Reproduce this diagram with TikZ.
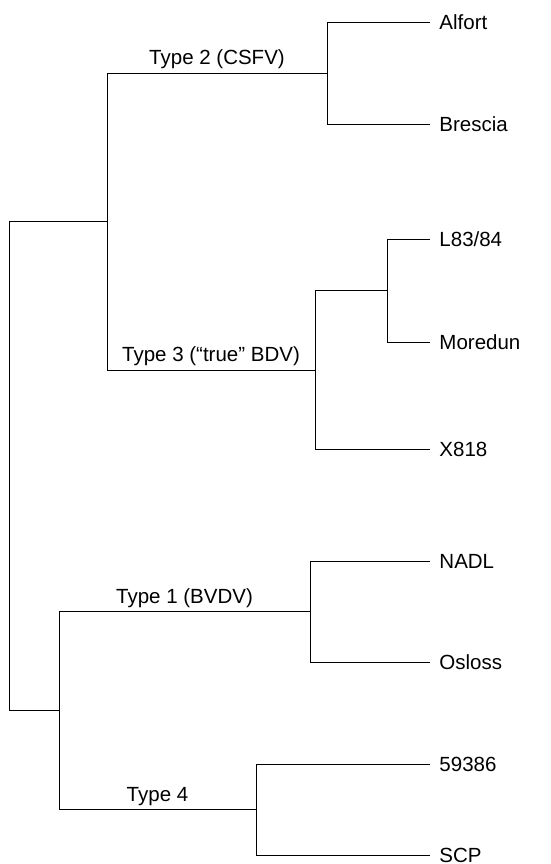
\documentclass[tikz,border=0pt]{standalone}
\usepackage{fontspec}
\setmainfont{Liberation Sans}
\usetikzlibrary{positioning}

\begin{document}
\begin{tikzpicture}[x=1pt, y=-1pt, line width=0.9pt,
  leaf/.style={anchor=west, inner xsep=9pt, inner ysep=0pt, text height=14.7pt, text depth=0pt, font=\fontsize{20.5}{24}\selectfont},
  clade/.style={above=8pt, inner sep=0pt, text depth=0pt, font=\fontsize{20.5}{24}\selectfont}]
\useasboundingbox (0,0) rectangle (550,864);

% strains
\node[leaf] (alfort) at (430, 22) {Alfort};
\node[leaf] (brescia) at (430, 124) {Brescia};
\node[leaf] (l83) at (430, 239) {L83/84};
\node[leaf] (moredun) at (430, 342) {Moredun};
\node[leaf] (x818) at (430, 449) {X818};
\node[leaf] (nadl) at (430, 561) {NADL};
\node[leaf] (osloss) at (430, 662) {Osloss};
\node[leaf] (s59386) at (430, 764) {59386};
\node[leaf] (scp) at (430, 855) {SCP};

% branch points
\coordinate (root) at (9, 466);
\coordinate (n23) at (107, 221);
\coordinate (n2) at (327, 73);
\coordinate (n3) at (315, 370);
\coordinate (n3b) at (387, 290.5);
\coordinate (n14) at (59, 710.5);
\coordinate (n1) at (310, 611.5);
\coordinate (n4) at (256, 809.5);

\draw (root) |- (n23);
\draw (root) |- (n14);
\draw (n23) |- (n2) node[clade, pos=0.75] {Type 2 (CSFV)};
\draw (n23) |- (n3) node[clade, pos=0.75] {Type 3 (“true” BDV)};
\draw (n14) |- (n1) node[clade, pos=0.75] {Type 1 (BVDV)};
\draw (n14) |- (n4) node[clade, pos=0.75] {Type 4};
\draw (n2) |- (alfort.west);
\draw (n2) |- (brescia.west);
\draw (n3) |- (n3b);
\draw (n3) |- (x818.west);
\draw (n3b) |- (l83.west);
\draw (n3b) |- (moredun.west);
\draw (n1) |- (nadl.west);
\draw (n1) |- (osloss.west);
\draw (n4) |- (s59386.west);
\draw (n4) |- (scp.west);
\end{tikzpicture}
\end{document}
